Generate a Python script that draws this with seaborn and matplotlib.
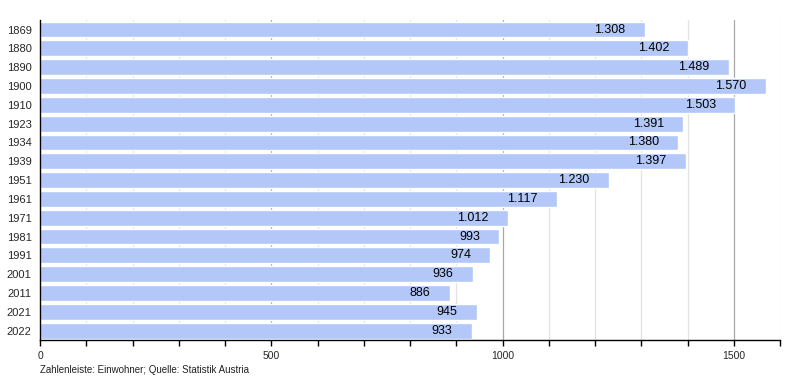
import matplotlib
matplotlib.use('Agg')
import matplotlib.pyplot as plt
import seaborn as sns
import pandas as pd
from matplotlib.ticker import MultipleLocator

# Einwohnerentwicklung
years = ['1869', '1880', '1890', '1900', '1910', '1923', '1934', '1939', '1951',
         '1961', '1971', '1981', '1991', '2001', '2011', '2021', '2022']
population = [1308, 1402, 1489, 1570, 1503, 1391, 1380, 1397, 1230,
              1117, 1012, 993, 974, 936, 886, 945, 933]

df = pd.DataFrame({'Jahr': years, 'Einwohner': population})

sns.set_style('white')
plt.rcParams['font.family'] = ['Liberation Sans', 'DejaVu Sans']

fig = plt.figure(figsize=(8, 3.8), dpi=100)
ax = fig.add_axes([0.05, 0.105, 0.925, 0.842])

# Gitterlinien: hell alle 100, dunkler alle 500
for x in range(100, 1700, 100):
    col = '#a8a8a8' if x % 500 == 0 else '#e2e2e2'
    ax.axvline(x, color=col, lw=0.9, zorder=0)

sns.barplot(data=df, x='Einwohner', y='Jahr', orient='h', color='#b3c8f8',
            saturation=1, width=0.84, ax=ax, zorder=2)

for i, v in enumerate(population):
    txt = f"{v:,}".replace(",", ".")
    ax.annotate(txt, (v, i), xytext=(-14, 0), textcoords='offset points',
                ha='right', va='center', fontsize=9, color='black', zorder=3)

ax.set_xlim(0, 1600)
ax.set_ylim(16.5, -0.5)
ax.xaxis.set_major_locator(MultipleLocator(500))
ax.xaxis.set_minor_locator(MultipleLocator(100))
ax.tick_params(axis='x', which='both', direction='out', length=4, width=1,
               labelsize=7.5, bottom=True, color='black', pad=4)
ax.tick_params(axis='y', length=0, labelsize=8, pad=6)
ax.set_xlabel('')
ax.set_ylabel('')

for s in ['top', 'right']:
    ax.spines[s].set_visible(False)
for s in ['left', 'bottom']:
    ax.spines[s].set_color('black')
    ax.spines[s].set_linewidth(1)

fig.text(0.05, 0.018, 'Zahlenleiste: Einwohner; Quelle: Statistik Austria',
         fontsize=7, color='#222222')

fig.savefig('out.png', dpi=100)
